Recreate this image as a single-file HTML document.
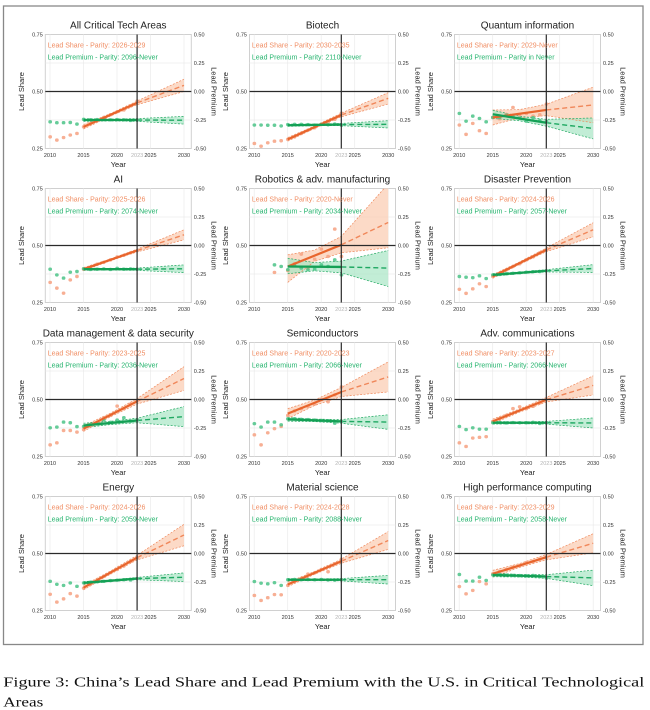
<!DOCTYPE html>
<html><head><meta charset="utf-8">
<style>
html,body{margin:0;padding:0;background:#fff}
svg{display:block}
svg text{font-family:"Liberation Sans",sans-serif}
.ti{font-size:10px;text-anchor:middle;fill:#222}
.lg{font-size:7px}
.o{fill:#f08e64}
.g{fill:#26b46e}
.tk{font-size:5.5px;fill:#333}
.gy{fill:#b4b4b4}
.yl{font-size:7.5px;text-anchor:middle;fill:#222}
.dg path{vector-effect:non-scaling-stroke;fill:none}
.dg .ob{fill:#fbcdb4;fill-opacity:.75;stroke:none}
.dg .gb{fill:#a8e6c4;fill-opacity:.7;stroke:none}
.dg .obd{stroke:#ef8a5e;stroke-width:.7;stroke-dasharray:2 1.5}
.dg .gbd{stroke:#23a862;stroke-width:.7;stroke-dasharray:2 1.5}
.dg .oc{stroke:#f0875a;stroke-width:1.4;stroke-dasharray:5 3}
.dg .gc{stroke:#1fa862;stroke-width:1.4;stroke-dasharray:5 3}
.dg .od{stroke:#f6a282;stroke-width:3.4;stroke-linecap:round;opacity:.85}
.dg .gd{stroke:#4cc488;stroke-width:3.4;stroke-linecap:round;opacity:.85}
.dg .ol{stroke:#e8652d;stroke-width:2.2}
.dg .gl{stroke:#14a055;stroke-width:2.3}
.cap{font-family:"Liberation Serif",serif;font-size:14px;fill:#111}
</style></head>
<body>
<svg width="650" height="710" viewBox="0 0 650 710" xmlns="http://www.w3.org/2000/svg">
<defs>
<clipPath id="c"><rect x="0" y="0" width="146" height="114"/></clipPath>
<g id="frame">
<rect x="0" y="0" width="146" height="114" fill="#fff" stroke="#d0d0d0" stroke-width="1"/>
<path d="M4.7 0V114M38.2 0V114M71.7 0V114M105.2 0V114M138.7 0V114M0 28.5H146M0 85.5H146" stroke="#ebebeb" stroke-width="0.7" fill="none"/>
</g>
<g id="axes">
<line x1="0" y1="57" x2="146" y2="57" stroke="#2a2a2a" stroke-width="1.2"/>
<line x1="91.8" y1="0" x2="91.8" y2="114" stroke="#2a2a2a" stroke-width="1.2"/>
</g>
</defs>
<rect x="0" y="0" width="650" height="710" fill="#fff"/>
<rect x="3.5" y="6" width="639.5" height="638.5" fill="none" stroke="#888" stroke-width="1.3"/>

<!-- Panel 1 -->
<g transform="translate(45.3,34.5)">
<use href="#frame"/>
<g clip-path="url(#c)"><g class="dg" transform="translate(4.7,171) scale(6.7,-228) translate(-2010,0)">
<path class="ob" d="M2015 .355L2019 .403L2023 .458L2030 .554L2030 .5L2023 .442L2019 .392L2015 .335Z"/>
<path class="gb" d="M2015 .381L2019 .379L2023 .381L2030 .391L2030 .357L2023 .369L2019 .371L2015 .369Z"/>
<path class="obd" d="M2015 .355L2019 .403L2023 .458L2030 .554M2015 .335L2019 .392L2023 .442L2030 .5"/>
<path class="gbd" d="M2015 .381L2019 .379L2023 .381L2030 .391M2015 .369L2019 .371L2023 .369L2030 .357"/>
<path class="oc" d="M2023 .45L2030 .527"/>
<path class="gc" d="M2023 .375L2030 .374"/>
<path class="od" d="M2010 .301h.05M2011 .287h.05M2012 .298h.05M2013 .309h.05M2014 .316h.05M2015 .345h.05M2016 .358h.05M2017 .371h.05M2018 .386h.05M2019 .398h.05M2020 .411h.05M2021 .419h.05M2022 .437h.05M2023 .458h.05"/>
<path class="gd" d="M2010 .367h.05M2011 .363h.05M2012 .363h.05M2013 .364h.05M2014 .357h.05M2015 .378h.05M2016 .376h.05M2017 .377h.05M2018 .377h.05M2019 .376h.05M2020 .377h.05M2021 .376h.05M2022 .373h.05M2023 .375h.05"/>
<path class="ol" d="M2015 .345L2023 .45"/>
<path class="gl" d="M2015 .375L2023 .375"/>
</g></g>
<use href="#axes"/>
<text class="ti" x="73" y="-6">All Critical Tech Areas</text>
<text class="lg o" x="2.4" y="12.8">Lead Share - Parity: 2026-2029</text>
<text class="lg g" x="2.4" y="24.8">Lead Premium - Parity: 2096-Never</text>
<text class="tk" text-anchor="end"><tspan x="-2.5" y="2">0.75</tspan><tspan x="-2.5" y="59">0.50</tspan><tspan x="-2.5" y="116">0.25</tspan></text>
<text class="tk"><tspan x="148.5" y="2">0.50</tspan><tspan x="148.5" y="30.5">0.25</tspan><tspan x="148.5" y="59">0.00</tspan><tspan x="148.5" y="87.5">-0.25</tspan><tspan x="148.5" y="116">-0.50</tspan></text>
<text class="tk" text-anchor="middle" y="122.7"><tspan x="4.7">2010</tspan><tspan x="38.2">2015</tspan><tspan x="71.7">2020</tspan><tspan x="105.2">2025</tspan><tspan x="138.7">2030</tspan></text>
<text class="tk gy" x="91.8" y="122.7" text-anchor="middle">2023</text>
<text class="yl" x="73" y="132.4">Year</text>
<text class="yl" transform="translate(-21.5,57) rotate(-90)">Lead Share</text>
<text class="yl" transform="translate(166,57) rotate(90)">Lead Premium</text>
</g>

<!-- Panel 2 -->
<g transform="translate(249.5,34.5)">
<use href="#frame"/>
<g clip-path="url(#c)"><g class="dg" transform="translate(4.7,171) scale(6.7,-228) translate(-2010,0)">
<path class="ob" d="M2015 .298L2019 .349L2023 .405L2030 .495L2030 .445L2023 .389L2019 .338L2015 .282Z"/>
<path class="gb" d="M2015 .357L2019 .357L2023 .36L2030 .372L2030 .34L2023 .35L2019 .35L2015 .347Z"/>
<path class="obd" d="M2015 .298L2019 .349L2023 .405L2030 .495M2015 .282L2019 .338L2023 .389L2030 .445"/>
<path class="gbd" d="M2015 .357L2019 .357L2023 .36L2030 .372M2015 .347L2019 .35L2023 .35L2030 .34"/>
<path class="oc" d="M2023 .397L2030 .47"/>
<path class="gc" d="M2023 .355L2030 .356"/>
<path class="od" d="M2010 .272h.05M2011 .26h.05M2012 .275h.05M2013 .282h.05M2014 .284h.05M2015 .29h.05M2016 .301h.05M2017 .316h.05M2018 .33h.05M2019 .341h.05M2020 .355h.05M2021 .365h.05M2022 .378h.05M2023 .405h.05"/>
<path class="gd" d="M2010 .353h.05M2011 .353h.05M2012 .352h.05M2013 .352h.05M2014 .349h.05M2015 .355h.05M2016 .356h.05M2017 .356h.05M2018 .355h.05M2019 .353h.05M2020 .356h.05M2021 .354h.05M2022 .357h.05M2023 .352h.05"/>
<path class="ol" d="M2015 .29L2023 .397"/>
<path class="gl" d="M2015 .352L2023 .355"/>
</g></g>
<use href="#axes"/>
<text class="ti" x="73" y="-6">Biotech</text>
<text class="lg o" x="2.4" y="12.8">Lead Share - Parity: 2030-2035</text>
<text class="lg g" x="2.4" y="24.8">Lead Premium - Parity: 2110-Never</text>
<text class="tk" text-anchor="end"><tspan x="-2.5" y="2">0.75</tspan><tspan x="-2.5" y="59">0.50</tspan><tspan x="-2.5" y="116">0.25</tspan></text>
<text class="tk"><tspan x="148.5" y="2">0.50</tspan><tspan x="148.5" y="30.5">0.25</tspan><tspan x="148.5" y="59">0.00</tspan><tspan x="148.5" y="87.5">-0.25</tspan><tspan x="148.5" y="116">-0.50</tspan></text>
<text class="tk" text-anchor="middle" y="122.7"><tspan x="4.7">2010</tspan><tspan x="38.2">2015</tspan><tspan x="71.7">2020</tspan><tspan x="105.2">2025</tspan><tspan x="138.7">2030</tspan></text>
<text class="tk gy" x="91.8" y="122.7" text-anchor="middle">2023</text>
<text class="yl" x="73" y="132.4">Year</text>
<text class="yl" transform="translate(-21.5,57) rotate(-90)">Lead Share</text>
<text class="yl" transform="translate(166,57) rotate(90)">Lead Premium</text>
</g>

<!-- Panel 3 -->
<g transform="translate(454.5,34.5)">
<use href="#frame"/>
<g clip-path="url(#c)"><g class="dg" transform="translate(4.7,171) scale(6.7,-228) translate(-2010,0)">
<path class="ob" d="M2015 .419L2019 .4205L2023 .444L2030 .519L2030 .363L2023 .394L2019 .3845L2015 .353Z"/>
<path class="gb" d="M2015 .418L2019 .3915L2023 .378L2030 .384L2030 .292L2023 .348L2019 .3715L2015 .382Z"/>
<path class="obd" d="M2015 .419L2019 .4205L2023 .444L2030 .519M2015 .353L2019 .3845L2023 .394L2030 .363"/>
<path class="gbd" d="M2015 .418L2019 .3915L2023 .378L2030 .384M2015 .382L2019 .3715L2023 .348L2030 .292"/>
<path class="oc" d="M2023 .419L2030 .441"/>
<path class="gc" d="M2023 .363L2030 .338"/>
<path class="od" d="M2010 .353h.05M2011 .312h.05M2012 .36h.05M2013 .328h.05M2014 .316h.05M2015 .386h.05M2016 .38h.05M2017 .4h.05M2018 .43h.05M2019 .398h.05M2020 .404h.05M2021 .392h.05M2022 .398h.05M2023 .445h.05"/>
<path class="gd" d="M2010 .404h.05M2011 .37h.05M2012 .392h.05M2013 .382h.05M2014 .367h.05M2015 .386h.05M2016 .386h.05M2017 .396h.05M2018 .389h.05M2019 .383h.05M2020 .37h.05M2021 .385h.05M2022 .372h.05M2023 .368h.05"/>
<path class="ol" d="M2015 .386L2023 .419"/>
<path class="gl" d="M2015 .4L2023 .363"/>
</g></g>
<use href="#axes"/>
<text class="ti" x="73" y="-6">Quantum information</text>
<text class="lg o" x="2.4" y="12.8">Lead Share - Parity: 2029-Never</text>
<text class="lg g" x="2.4" y="24.8">Lead Premium - Parity in Never</text>
<text class="tk" text-anchor="end"><tspan x="-2.5" y="2">0.75</tspan><tspan x="-2.5" y="59">0.50</tspan><tspan x="-2.5" y="116">0.25</tspan></text>
<text class="tk"><tspan x="148.5" y="2">0.50</tspan><tspan x="148.5" y="30.5">0.25</tspan><tspan x="148.5" y="59">0.00</tspan><tspan x="148.5" y="87.5">-0.25</tspan><tspan x="148.5" y="116">-0.50</tspan></text>
<text class="tk" text-anchor="middle" y="122.7"><tspan x="4.7">2010</tspan><tspan x="38.2">2015</tspan><tspan x="71.7">2020</tspan><tspan x="105.2">2025</tspan><tspan x="138.7">2030</tspan></text>
<text class="tk gy" x="91.8" y="122.7" text-anchor="middle">2023</text>
<text class="yl" x="73" y="132.4">Year</text>
<text class="yl" transform="translate(-21.5,57) rotate(-90)">Lead Share</text>
<text class="yl" transform="translate(166,57) rotate(90)">Lead Premium</text>
</g>

<!-- Panel 4 -->
<g transform="translate(45.3,188.5)">
<use href="#frame"/>
<g clip-path="url(#c)"><g class="dg" transform="translate(4.7,171) scale(6.7,-228) translate(-2010,0)">
<path class="ob" d="M2015 .403L2019 .441L2023 .484L2030 .569L2030 .525L2023 .472L2019 .433L2015 .389Z"/>
<path class="gb" d="M2015 .401L2019 .3995L2023 .401L2030 .415L2030 .381L2023 .391L2019 .3925L2015 .391Z"/>
<path class="obd" d="M2015 .403L2019 .441L2023 .484L2030 .569M2015 .389L2019 .433L2023 .472L2030 .525"/>
<path class="gbd" d="M2015 .401L2019 .3995L2023 .401L2030 .415M2015 .391L2019 .3925L2023 .391L2030 .381"/>
<path class="oc" d="M2023 .478L2030 .547"/>
<path class="gc" d="M2023 .396L2030 .398"/>
<path class="od" d="M2010 .338h.05M2011 .313h.05M2012 .291h.05M2013 .349h.05M2014 .364h.05M2015 .396h.05M2016 .405h.05M2017 .418h.05M2018 .426h.05M2019 .437h.05M2020 .45h.05M2021 .457h.05M2022 .468h.05M2023 .478h.05"/>
<path class="gd" d="M2010 .396h.05M2011 .371h.05M2012 .357h.05M2013 .383h.05M2014 .386h.05M2015 .398h.05M2016 .395h.05M2017 .396h.05M2018 .397h.05M2019 .395h.05M2020 .4h.05M2021 .396h.05M2022 .397h.05M2023 .396h.05"/>
<path class="ol" d="M2015 .396L2023 .478"/>
<path class="gl" d="M2015 .396L2023 .396"/>
</g></g>
<use href="#axes"/>
<text class="ti" x="73" y="-6">AI</text>
<text class="lg o" x="2.4" y="12.8">Lead Share - Parity: 2025-2026</text>
<text class="lg g" x="2.4" y="24.8">Lead Premium - Parity: 2074-Never</text>
<text class="tk" text-anchor="end"><tspan x="-2.5" y="2">0.75</tspan><tspan x="-2.5" y="59">0.50</tspan><tspan x="-2.5" y="116">0.25</tspan></text>
<text class="tk"><tspan x="148.5" y="2">0.50</tspan><tspan x="148.5" y="30.5">0.25</tspan><tspan x="148.5" y="59">0.00</tspan><tspan x="148.5" y="87.5">-0.25</tspan><tspan x="148.5" y="116">-0.50</tspan></text>
<text class="tk" text-anchor="middle" y="122.7"><tspan x="4.7">2010</tspan><tspan x="38.2">2015</tspan><tspan x="71.7">2020</tspan><tspan x="105.2">2025</tspan><tspan x="138.7">2030</tspan></text>
<text class="tk gy" x="91.8" y="122.7" text-anchor="middle">2023</text>
<text class="yl" x="73" y="132.4">Year</text>
<text class="yl" transform="translate(-21.5,57) rotate(-90)">Lead Share</text>
<text class="yl" transform="translate(166,57) rotate(90)">Lead Premium</text>
</g>

<!-- Panel 5 -->
<g transform="translate(249.5,188.5)">
<use href="#frame"/>
<g clip-path="url(#c)"><g class="dg" transform="translate(4.7,171) scale(6.7,-228) translate(-2010,0)">
<path class="ob" d="M2015 .459L2019 .48L2023 .54L2030 .77L2030 .49L2023 .468L2019 .43L2015 .338Z"/>
<path class="gb" d="M2015 .444L2019 .425L2023 .432L2030 .478L2030 .32L2023 .38L2019 .389L2015 .376Z"/>
<path class="obd" d="M2015 .459L2019 .48L2023 .54L2030 .77M2015 .338L2019 .43L2023 .468L2030 .49"/>
<path class="gbd" d="M2015 .444L2019 .425L2023 .432L2030 .478M2015 .376L2019 .389L2023 .38L2030 .32"/>
<path class="oc" d="M2023 .503L2030 .601"/>
<path class="gc" d="M2023 .406L2030 .401"/>
<path class="od" d="M2013 .382h.05M2015 .39h.05M2016 .42h.05M2017 .462h.05M2018 .4h.05M2019 .44h.05M2020 .484h.05M2021 .452h.05M2022 .572h.05M2023 .452h.05"/>
<path class="gd" d="M2013 .415h.05M2014 .408h.05M2015 .394h.05M2016 .411h.05M2017 .401h.05M2018 .394h.05M2019 .397h.05M2020 .415h.05M2021 .408h.05M2022 .437h.05M2023 .371h.05"/>
<path class="ol" d="M2015 .408L2023 .503"/>
<path class="gl" d="M2015 .408L2023 .406"/>
</g></g>
<use href="#axes"/>
<text class="ti" x="73" y="-6">Robotics &amp; adv. manufacturing</text>
<text class="lg o" x="2.4" y="12.8">Lead Share - Parity: 2020-Never</text>
<text class="lg g" x="2.4" y="24.8">Lead Premium - Parity: 2034-Never</text>
<text class="tk" text-anchor="end"><tspan x="-2.5" y="2">0.75</tspan><tspan x="-2.5" y="59">0.50</tspan><tspan x="-2.5" y="116">0.25</tspan></text>
<text class="tk"><tspan x="148.5" y="2">0.50</tspan><tspan x="148.5" y="30.5">0.25</tspan><tspan x="148.5" y="59">0.00</tspan><tspan x="148.5" y="87.5">-0.25</tspan><tspan x="148.5" y="116">-0.50</tspan></text>
<text class="tk" text-anchor="middle" y="122.7"><tspan x="4.7">2010</tspan><tspan x="38.2">2015</tspan><tspan x="71.7">2020</tspan><tspan x="105.2">2025</tspan><tspan x="138.7">2030</tspan></text>
<text class="tk gy" x="91.8" y="122.7" text-anchor="middle">2023</text>
<text class="yl" x="73" y="132.4">Year</text>
<text class="yl" transform="translate(-21.5,57) rotate(-90)">Lead Share</text>
<text class="yl" transform="translate(166,57) rotate(90)">Lead Premium</text>
</g>

<!-- Panel 6 -->
<g transform="translate(454.5,188.5)">
<use href="#frame"/>
<g clip-path="url(#c)"><g class="dg" transform="translate(4.7,171) scale(6.7,-228) translate(-2010,0)">
<path class="ob" d="M2015 .372L2019 .428L2023 .489L2030 .6L2030 .538L2023 .473L2019 .417L2015 .356Z"/>
<path class="gb" d="M2015 .377L2019 .3835L2023 .394L2030 .416L2030 .382L2023 .384L2019 .3765L2015 .365Z"/>
<path class="obd" d="M2015 .372L2019 .428L2023 .489L2030 .6M2015 .356L2019 .417L2023 .473L2030 .538"/>
<path class="gbd" d="M2015 .377L2019 .3835L2023 .394L2030 .416M2015 .365L2019 .3765L2023 .384L2030 .382"/>
<path class="oc" d="M2023 .481L2030 .569"/>
<path class="gc" d="M2023 .389L2030 .399"/>
<path class="od" d="M2010 .308h.05M2011 .29h.05M2012 .31h.05M2013 .332h.05M2014 .32h.05M2015 .364h.05M2016 .378h.05M2017 .393h.05M2018 .408h.05M2019 .42h.05M2020 .437h.05M2021 .45h.05M2022 .468h.05M2023 .481h.05"/>
<path class="gd" d="M2010 .364h.05M2011 .361h.05M2012 .359h.05M2013 .367h.05M2014 .355h.05M2015 .371h.05M2016 .373h.05M2017 .376h.05M2018 .378h.05M2019 .38h.05M2020 .383h.05M2021 .385h.05M2022 .386h.05M2023 .389h.05"/>
<path class="ol" d="M2015 .364L2023 .481"/>
<path class="gl" d="M2015 .371L2023 .389"/>
</g></g>
<use href="#axes"/>
<text class="ti" x="73" y="-6">Disaster Prevention</text>
<text class="lg o" x="2.4" y="12.8">Lead Share - Parity: 2024-2026</text>
<text class="lg g" x="2.4" y="24.8">Lead Premium - Parity: 2057-Never</text>
<text class="tk" text-anchor="end"><tspan x="-2.5" y="2">0.75</tspan><tspan x="-2.5" y="59">0.50</tspan><tspan x="-2.5" y="116">0.25</tspan></text>
<text class="tk"><tspan x="148.5" y="2">0.50</tspan><tspan x="148.5" y="30.5">0.25</tspan><tspan x="148.5" y="59">0.00</tspan><tspan x="148.5" y="87.5">-0.25</tspan><tspan x="148.5" y="116">-0.50</tspan></text>
<text class="tk" text-anchor="middle" y="122.7"><tspan x="4.7">2010</tspan><tspan x="38.2">2015</tspan><tspan x="71.7">2020</tspan><tspan x="105.2">2025</tspan><tspan x="138.7">2030</tspan></text>
<text class="tk gy" x="91.8" y="122.7" text-anchor="middle">2023</text>
<text class="yl" x="73" y="132.4">Year</text>
<text class="yl" transform="translate(-21.5,57) rotate(-90)">Lead Share</text>
<text class="yl" transform="translate(166,57) rotate(90)">Lead Premium</text>
</g>

<!-- Panel 7 -->
<g transform="translate(45.3,342.5)">
<use href="#frame"/>
<g clip-path="url(#c)"><g class="dg" transform="translate(4.7,171) scale(6.7,-228) translate(-2010,0)">
<path class="ob" d="M2015 .384L2019 .44L2023 .504L2030 .644L2030 .54L2023 .48L2019 .424L2015 .36Z"/>
<path class="gb" d="M2015 .396L2019 .404L2023 .418L2030 .469L2030 .381L2023 .398L2019 .39L2015 .376Z"/>
<path class="obd" d="M2015 .384L2019 .44L2023 .504L2030 .644M2015 .36L2019 .424L2023 .48L2030 .54"/>
<path class="gbd" d="M2015 .396L2019 .404L2023 .418L2030 .469M2015 .376L2019 .39L2023 .398L2030 .381"/>
<path class="oc" d="M2023 .492L2030 .592"/>
<path class="gc" d="M2023 .408L2030 .425"/>
<path class="od" d="M2010 .301h.05M2011 .31h.05M2012 .364h.05M2013 .364h.05M2014 .357h.05M2015 .368h.05M2016 .385h.05M2017 .4h.05M2018 .42h.05M2019 .43h.05M2020 .471h.05M2021 .46h.05M2022 .48h.05M2023 .496h.05"/>
<path class="gd" d="M2010 .376h.05M2011 .379h.05M2012 .401h.05M2013 .398h.05M2014 .381h.05M2015 .382h.05M2016 .39h.05M2017 .395h.05M2018 .41h.05M2019 .4h.05M2020 .41h.05M2021 .42h.05M2022 .405h.05M2023 .41h.05"/>
<path class="ol" d="M2015 .372L2023 .492"/>
<path class="gl" d="M2015 .386L2023 .408"/>
</g></g>
<use href="#axes"/>
<text class="ti" x="73" y="-6">Data management &amp; data security</text>
<text class="lg o" x="2.4" y="12.8">Lead Share - Parity: 2023-2025</text>
<text class="lg g" x="2.4" y="24.8">Lead Premium - Parity: 2036-Never</text>
<text class="tk" text-anchor="end"><tspan x="-2.5" y="2">0.75</tspan><tspan x="-2.5" y="59">0.50</tspan><tspan x="-2.5" y="116">0.25</tspan></text>
<text class="tk"><tspan x="148.5" y="2">0.50</tspan><tspan x="148.5" y="30.5">0.25</tspan><tspan x="148.5" y="59">0.00</tspan><tspan x="148.5" y="87.5">-0.25</tspan><tspan x="148.5" y="116">-0.50</tspan></text>
<text class="tk" text-anchor="middle" y="122.7"><tspan x="4.7">2010</tspan><tspan x="38.2">2015</tspan><tspan x="71.7">2020</tspan><tspan x="105.2">2025</tspan><tspan x="138.7">2030</tspan></text>
<text class="tk gy" x="91.8" y="122.7" text-anchor="middle">2023</text>
<text class="yl" x="73" y="132.4">Year</text>
<text class="yl" transform="translate(-21.5,57) rotate(-90)">Lead Share</text>
<text class="yl" transform="translate(166,57) rotate(90)">Lead Premium</text>
</g>

<!-- Panel 8 -->
<g transform="translate(249.5,342.5)">
<use href="#frame"/>
<g clip-path="url(#c)"><g class="dg" transform="translate(4.7,171) scale(6.7,-228) translate(-2010,0)">
<path class="ob" d="M2015 .46L2019 .4975L2023 .553L2030 .665L2030 .533L2023 .513L2019 .4735L2015 .416Z"/>
<path class="gb" d="M2015 .421L2019 .414L2023 .412L2030 .433L2030 .369L2023 .396L2019 .403L2015 .405Z"/>
<path class="obd" d="M2015 .46L2019 .4975L2023 .553L2030 .665M2015 .416L2019 .4735L2023 .513L2030 .533"/>
<path class="gbd" d="M2015 .421L2019 .414L2023 .412L2030 .433M2015 .405L2019 .403L2023 .396L2030 .369"/>
<path class="oc" d="M2023 .533L2030 .599"/>
<path class="gc" d="M2023 .404L2030 .401"/>
<path class="od" d="M2010 .345h.05M2011 .301h.05M2012 .354h.05M2013 .372h.05M2014 .382h.05M2015 .43h.05M2016 .45h.05M2017 .46h.05M2018 .47h.05M2019 .48h.05M2020 .5h.05M2021 .49h.05M2022 .52h.05M2023 .555h.05"/>
<path class="gd" d="M2010 .394h.05M2011 .379h.05M2012 .401h.05M2013 .401h.05M2014 .389h.05M2015 .415h.05M2016 .416h.05M2017 .413h.05M2018 .412h.05M2019 .41h.05M2020 .408h.05M2021 .407h.05M2022 .396h.05M2023 .404h.05"/>
<path class="ol" d="M2015 .438L2023 .533"/>
<path class="gl" d="M2015 .413L2023 .404"/>
</g></g>
<use href="#axes"/>
<text class="ti" x="73" y="-6">Semiconductors</text>
<text class="lg o" x="2.4" y="12.8">Lead Share - Parity: 2020-2023</text>
<text class="lg g" x="2.4" y="24.8">Lead Premium - Parity: 2066-Never</text>
<text class="tk" text-anchor="end"><tspan x="-2.5" y="2">0.75</tspan><tspan x="-2.5" y="59">0.50</tspan><tspan x="-2.5" y="116">0.25</tspan></text>
<text class="tk"><tspan x="148.5" y="2">0.50</tspan><tspan x="148.5" y="30.5">0.25</tspan><tspan x="148.5" y="59">0.00</tspan><tspan x="148.5" y="87.5">-0.25</tspan><tspan x="148.5" y="116">-0.50</tspan></text>
<text class="tk" text-anchor="middle" y="122.7"><tspan x="4.7">2010</tspan><tspan x="38.2">2015</tspan><tspan x="71.7">2020</tspan><tspan x="105.2">2025</tspan><tspan x="138.7">2030</tspan></text>
<text class="tk gy" x="91.8" y="122.7" text-anchor="middle">2023</text>
<text class="yl" x="73" y="132.4">Year</text>
<text class="yl" transform="translate(-21.5,57) rotate(-90)">Lead Share</text>
<text class="yl" transform="translate(166,57) rotate(90)">Lead Premium</text>
</g>

<!-- Panel 9 -->
<g transform="translate(454.5,342.5)">
<use href="#frame"/>
<g clip-path="url(#c)"><g class="dg" transform="translate(4.7,171) scale(6.7,-228) translate(-2010,0)">
<path class="ob" d="M2015 .414L2019 .4585L2023 .509L2030 .604L2030 .52L2023 .489L2019 .4445L2015 .394Z"/>
<path class="gb" d="M2015 .404L2019 .402L2023 .404L2030 .419L2030 .375L2023 .392L2019 .394L2015 .392Z"/>
<path class="obd" d="M2015 .414L2019 .4585L2023 .509L2030 .604M2015 .394L2019 .4445L2023 .489L2030 .52"/>
<path class="gbd" d="M2015 .404L2019 .402L2023 .404L2030 .419M2015 .392L2019 .394L2023 .392L2030 .375"/>
<path class="oc" d="M2023 .499L2030 .562"/>
<path class="gc" d="M2023 .398L2030 .397"/>
<path class="od" d="M2010 .31h.05M2011 .294h.05M2012 .331h.05M2013 .334h.05M2014 .337h.05M2015 .404h.05M2016 .416h.05M2017 .43h.05M2018 .46h.05M2019 .468h.05M2020 .46h.05M2021 .47h.05M2022 .485h.05M2023 .502h.05"/>
<path class="gd" d="M2010 .382h.05M2011 .368h.05M2012 .376h.05M2013 .37h.05M2014 .37h.05M2015 .398h.05M2016 .399h.05M2017 .397h.05M2018 .399h.05M2019 .398h.05M2020 .398h.05M2021 .4h.05M2022 .395h.05M2023 .398h.05"/>
<path class="ol" d="M2015 .404L2023 .499"/>
<path class="gl" d="M2015 .398L2023 .398"/>
</g></g>
<use href="#axes"/>
<text class="ti" x="73" y="-6">Adv. communications</text>
<text class="lg o" x="2.4" y="12.8">Lead Share - Parity: 2023-2027</text>
<text class="lg g" x="2.4" y="24.8">Lead Premium - Parity: 2066-Never</text>
<text class="tk" text-anchor="end"><tspan x="-2.5" y="2">0.75</tspan><tspan x="-2.5" y="59">0.50</tspan><tspan x="-2.5" y="116">0.25</tspan></text>
<text class="tk"><tspan x="148.5" y="2">0.50</tspan><tspan x="148.5" y="30.5">0.25</tspan><tspan x="148.5" y="59">0.00</tspan><tspan x="148.5" y="87.5">-0.25</tspan><tspan x="148.5" y="116">-0.50</tspan></text>
<text class="tk" text-anchor="middle" y="122.7"><tspan x="4.7">2010</tspan><tspan x="38.2">2015</tspan><tspan x="71.7">2020</tspan><tspan x="105.2">2025</tspan><tspan x="138.7">2030</tspan></text>
<text class="tk gy" x="91.8" y="122.7" text-anchor="middle">2023</text>
<text class="yl" x="73" y="132.4">Year</text>
<text class="yl" transform="translate(-21.5,57) rotate(-90)">Lead Share</text>
<text class="yl" transform="translate(166,57) rotate(90)">Lead Premium</text>
</g>

<!-- Panel 10 -->
<g transform="translate(45.3,496.5)">
<use href="#frame"/>
<g clip-path="url(#c)"><g class="dg" transform="translate(4.7,171) scale(6.7,-228) translate(-2010,0)">
<path class="ob" d="M2015 .36L2019 .423L2023 .492L2030 .628L2030 .534L2023 .472L2019 .409L2015 .34Z"/>
<path class="gb" d="M2015 .377L2019 .384L2023 .395L2030 .415L2030 .377L2023 .385L2019 .377L2015 .365Z"/>
<path class="obd" d="M2015 .36L2019 .423L2023 .492L2030 .628M2015 .34L2019 .409L2023 .472L2030 .534"/>
<path class="gbd" d="M2015 .377L2019 .384L2023 .395L2030 .415M2015 .365L2019 .377L2023 .385L2030 .377"/>
<path class="oc" d="M2023 .482L2030 .581"/>
<path class="gc" d="M2023 .39L2030 .396"/>
<path class="od" d="M2010 .321h.05M2011 .287h.05M2012 .301h.05M2013 .324h.05M2014 .313h.05M2015 .348h.05M2016 .365h.05M2017 .378h.05M2018 .4h.05M2019 .416h.05M2020 .43h.05M2021 .445h.05M2022 .465h.05M2023 .482h.05"/>
<path class="gd" d="M2010 .378h.05M2011 .365h.05M2012 .36h.05M2013 .371h.05M2014 .356h.05M2015 .371h.05M2016 .374h.05M2017 .376h.05M2018 .378h.05M2019 .381h.05M2020 .383h.05M2021 .385h.05M2022 .384h.05M2023 .39h.05"/>
<path class="ol" d="M2015 .35L2023 .482"/>
<path class="gl" d="M2015 .371L2023 .39"/>
</g></g>
<use href="#axes"/>
<text class="ti" x="73" y="-6">Energy</text>
<text class="lg o" x="2.4" y="12.8">Lead Share - Parity: 2024-2026</text>
<text class="lg g" x="2.4" y="24.8">Lead Premium - Parity: 2059-Never</text>
<text class="tk" text-anchor="end"><tspan x="-2.5" y="2">0.75</tspan><tspan x="-2.5" y="59">0.50</tspan><tspan x="-2.5" y="116">0.25</tspan></text>
<text class="tk"><tspan x="148.5" y="2">0.50</tspan><tspan x="148.5" y="30.5">0.25</tspan><tspan x="148.5" y="59">0.00</tspan><tspan x="148.5" y="87.5">-0.25</tspan><tspan x="148.5" y="116">-0.50</tspan></text>
<text class="tk" text-anchor="middle" y="122.7"><tspan x="4.7">2010</tspan><tspan x="38.2">2015</tspan><tspan x="71.7">2020</tspan><tspan x="105.2">2025</tspan><tspan x="138.7">2030</tspan></text>
<text class="tk gy" x="91.8" y="122.7" text-anchor="middle">2023</text>
<text class="yl" x="73" y="132.4">Year</text>
<text class="yl" transform="translate(-21.5,57) rotate(-90)">Lead Share</text>
<text class="yl" transform="translate(166,57) rotate(90)">Lead Premium</text>
</g>

<!-- Panel 11 -->
<g transform="translate(249.5,496.5)">
<use href="#frame"/>
<g clip-path="url(#c)"><g class="dg" transform="translate(4.7,171) scale(6.7,-228) translate(-2010,0)">
<path class="ob" d="M2015 .374L2019 .4213L2023 .475L2030 .596L2030 .518L2023 .457L2019 .4087L2015 .354Z"/>
<path class="gb" d="M2015 .39L2019 .3885L2023 .39L2030 .404L2030 .366L2023 .38L2019 .3815L2015 .38Z"/>
<path class="obd" d="M2015 .374L2019 .4213L2023 .475L2030 .596M2015 .354L2019 .4087L2023 .457L2030 .518"/>
<path class="gbd" d="M2015 .39L2019 .3885L2023 .39L2030 .404M2015 .38L2019 .3815L2023 .38L2030 .366"/>
<path class="oc" d="M2023 .466L2030 .557"/>
<path class="gc" d="M2023 .385L2030 .385"/>
<path class="od" d="M2010 .316h.05M2011 .294h.05M2012 .306h.05M2013 .32h.05M2014 .319h.05M2015 .36h.05M2016 .377h.05M2017 .39h.05M2018 .41h.05M2019 .415h.05M2020 .43h.05M2021 .42h.05M2022 .455h.05M2023 .475h.05"/>
<path class="gd" d="M2010 .377h.05M2011 .37h.05M2012 .367h.05M2013 .372h.05M2014 .36h.05M2015 .385h.05M2016 .386h.05M2017 .385h.05M2018 .386h.05M2019 .385h.05M2020 .386h.05M2021 .384h.05M2022 .383h.05M2023 .385h.05"/>
<path class="ol" d="M2015 .364L2023 .466"/>
<path class="gl" d="M2015 .385L2023 .385"/>
</g></g>
<use href="#axes"/>
<text class="ti" x="73" y="-6">Material science</text>
<text class="lg o" x="2.4" y="12.8">Lead Share - Parity: 2024-2028</text>
<text class="lg g" x="2.4" y="24.8">Lead Premium - Parity: 2088-Never</text>
<text class="tk" text-anchor="end"><tspan x="-2.5" y="2">0.75</tspan><tspan x="-2.5" y="59">0.50</tspan><tspan x="-2.5" y="116">0.25</tspan></text>
<text class="tk"><tspan x="148.5" y="2">0.50</tspan><tspan x="148.5" y="30.5">0.25</tspan><tspan x="148.5" y="59">0.00</tspan><tspan x="148.5" y="87.5">-0.25</tspan><tspan x="148.5" y="116">-0.50</tspan></text>
<text class="tk" text-anchor="middle" y="122.7"><tspan x="4.7">2010</tspan><tspan x="38.2">2015</tspan><tspan x="71.7">2020</tspan><tspan x="105.2">2025</tspan><tspan x="138.7">2030</tspan></text>
<text class="tk gy" x="91.8" y="122.7" text-anchor="middle">2023</text>
<text class="yl" x="73" y="132.4">Year</text>
<text class="yl" transform="translate(-21.5,57) rotate(-90)">Lead Share</text>
<text class="yl" transform="translate(166,57) rotate(90)">Lead Premium</text>
</g>

<!-- Panel 12 -->
<g transform="translate(454.5,496.5)">
<use href="#frame"/>
<g clip-path="url(#c)"><g class="dg" transform="translate(4.7,171) scale(6.7,-228) translate(-2010,0)">
<path class="ob" d="M2015 .426L2019 .4559L2023 .496L2030 .587L2030 .503L2023 .472L2019 .4391L2015 .396Z"/>
<path class="gb" d="M2015 .414L2019 .4081L2023 .407L2030 .427L2030 .359L2023 .391L2019 .3969L2015 .398Z"/>
<path class="obd" d="M2015 .426L2019 .4559L2023 .496L2030 .587M2015 .396L2019 .4391L2023 .472L2030 .503"/>
<path class="gbd" d="M2015 .414L2019 .4081L2023 .407L2030 .427M2015 .398L2019 .3969L2023 .391L2030 .359"/>
<path class="oc" d="M2023 .484L2030 .545"/>
<path class="gc" d="M2023 .399L2030 .393"/>
<path class="od" d="M2010 .355h.05M2011 .323h.05M2012 .338h.05M2013 .377h.05M2014 .367h.05M2015 .411h.05M2016 .42h.05M2017 .43h.05M2018 .44h.05M2019 .445h.05M2020 .46h.05M2021 .465h.05M2022 .475h.05M2023 .484h.05"/>
<path class="gd" d="M2010 .408h.05M2011 .379h.05M2012 .379h.05M2013 .396h.05M2014 .382h.05M2015 .406h.05M2016 .407h.05M2017 .405h.05M2018 .404h.05M2019 .403h.05M2020 .402h.05M2021 .404h.05M2022 .399h.05M2023 .392h.05"/>
<path class="ol" d="M2015 .411L2023 .484"/>
<path class="gl" d="M2015 .406L2023 .399"/>
</g></g>
<use href="#axes"/>
<text class="ti" x="73" y="-6">High performance computing</text>
<text class="lg o" x="2.4" y="12.8">Lead Share - Parity: 2023-2029</text>
<text class="lg g" x="2.4" y="24.8">Lead Premium - Parity: 2058-Never</text>
<text class="tk" text-anchor="end"><tspan x="-2.5" y="2">0.75</tspan><tspan x="-2.5" y="59">0.50</tspan><tspan x="-2.5" y="116">0.25</tspan></text>
<text class="tk"><tspan x="148.5" y="2">0.50</tspan><tspan x="148.5" y="30.5">0.25</tspan><tspan x="148.5" y="59">0.00</tspan><tspan x="148.5" y="87.5">-0.25</tspan><tspan x="148.5" y="116">-0.50</tspan></text>
<text class="tk" text-anchor="middle" y="122.7"><tspan x="4.7">2010</tspan><tspan x="38.2">2015</tspan><tspan x="71.7">2020</tspan><tspan x="105.2">2025</tspan><tspan x="138.7">2030</tspan></text>
<text class="tk gy" x="91.8" y="122.7" text-anchor="middle">2023</text>
<text class="yl" x="73" y="132.4">Year</text>
<text class="yl" transform="translate(-21.5,57) rotate(-90)">Lead Share</text>
<text class="yl" transform="translate(166,57) rotate(90)">Lead Premium</text>
</g>

<!-- Caption -->
<text class="cap" x="3.3" y="686.7" textLength="641" lengthAdjust="spacingAndGlyphs">Figure 3:  China’s Lead Share and Lead Premium with the U.S. in Critical Technological</text>
<text class="cap" x="3.3" y="706.7" textLength="40" lengthAdjust="spacingAndGlyphs">Areas</text>
</svg>
</body></html>
